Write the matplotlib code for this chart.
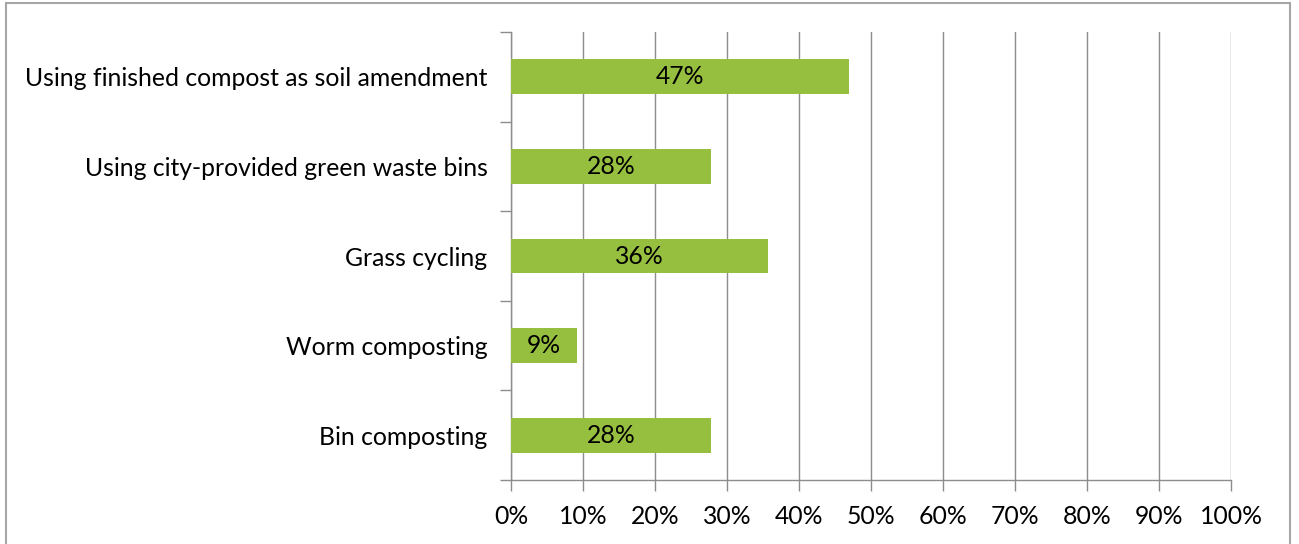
import matplotlib.pyplot as plt
from matplotlib.patches import Rectangle

# categories listed top to bottom
categories = ["Using finished compost as soil amendment",
              "Using city-provided green waste bins",
              "Grass cycling",
              "Worm composting",
              "Bin composting"]
values = [46.9, 27.8, 35.7, 9.2, 27.8]
labels = ["47%", "28%", "36%", "9%", "28%"]
x_ticks = list(range(0, 101, 10))

BAR_COLOR = "#97BF3F"
GRID_COLOR = "#8C8C8C"
FS = 17.8

plt.rcParams['font.family'] = ['Lato', 'DejaVu Sans']

fig = plt.figure(figsize=(12.99, 5.44), dpi=100)
W, H = 1299, 544
ax = fig.add_axes([511 / W, 1 - 480 / H, 720 / W, 448 / H])

n = len(categories)
ypos = [n - 1 - i for i in range(n)]
ax.barh(ypos, values, height=0.39, color=BAR_COLOR, zorder=3)

# data labels in the middle of each bar
for y, v, lab in zip(ypos, values, labels):
    ax.text(v / 2, y, lab, ha='center', va='center', fontsize=FS, color='black', zorder=4)

ax.set_xlim(0, 100)
ax.set_ylim(-0.5, n - 0.5)
ax.set_xticks(x_ticks)
ax.set_xticklabels([f"{t}%" for t in x_ticks], fontsize=FS)
ax.xaxis.grid(True, color=GRID_COLOR, linewidth=1)
ax.set_axisbelow(True)

# category labels at centres, tick marks on boundaries
ax.set_yticks(ypos)
ax.set_yticklabels(categories, fontsize=FS)
ax.set_yticks([i - 0.5 for i in range(n + 1)], minor=True)
ax.tick_params(axis='y', which='major', length=0, pad=17)
ax.tick_params(axis='y', which='minor', length=8, color=GRID_COLOR, width=1)
ax.tick_params(axis='x', length=8, color=GRID_COLOR, width=1, pad=10)

for side in ['top', 'right']:
    ax.spines[side].set_visible(False)
for side in ['left', 'bottom']:
    ax.spines[side].set_color(GRID_COLOR)
    ax.spines[side].set_linewidth(1)

# outer chart border
fig.patches.append(Rectangle((6 / W, -0.01), 1284 / W, 1 - 3 / H + 0.01,
                             transform=fig.transFigure, fill=False,
                             edgecolor='#A6A6A6', linewidth=1.5))

fig.savefig("out.png", dpi=100)
